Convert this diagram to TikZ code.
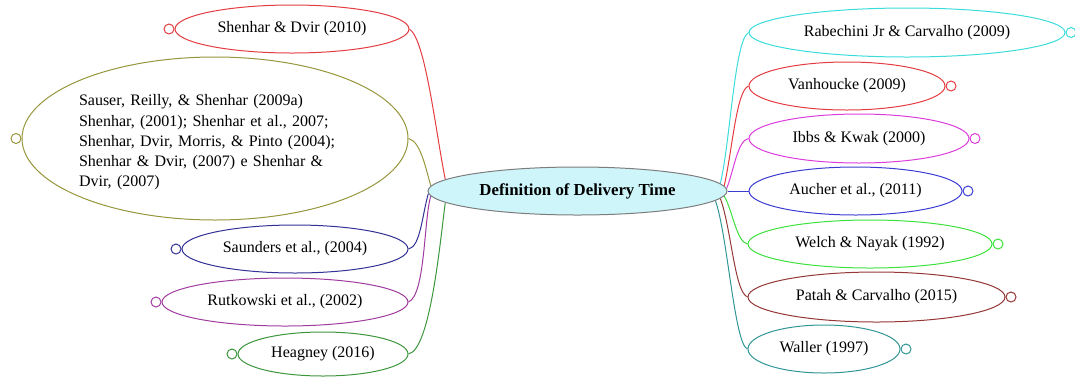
\documentclass[tikz,border=0pt]{standalone}
\usepackage{fontspec}
\setmainfont{Liberation Serif}
\usetikzlibrary{shapes.geometric,backgrounds}

% branch colours
\definecolor{cRed}{RGB}{228,60,64}
\definecolor{cOlive}{RGB}{150,150,60}
\definecolor{cNavy}{RGB}{50,50,150}
\definecolor{cPurple}{RGB}{160,60,160}
\definecolor{cDkGreen}{RGB}{60,150,60}
\definecolor{cCyan}{RGB}{60,220,220}
\definecolor{cMagenta}{RGB}{220,60,220}
\definecolor{cBlue}{RGB}{60,60,210}
\definecolor{cLtGreen}{RGB}{60,225,60}
\definecolor{cBrown}{RGB}{150,55,55}
\definecolor{cTeal}{RGB}{50,150,150}
\definecolor{rootFill}{RGB}{205,245,250}
\definecolor{rootLine}{RGB}{125,125,125}

% label set slightly left of the bubble centre
\newcommand\lbl[1]{#1\hspace{14pt}}

\begin{document}
\begin{tikzpicture}[x=1pt,y=-1pt,
  bub/.style={ellipse, draw=#1, line width=1pt, fill=white, inner sep=-3pt,
              font=\fontsize{16}{19}\selectfont, text=black},
  knob/.style={circle, draw=#1, line width=1pt, fill=white, inner sep=0pt, minimum size=10pt},
  link/.style={draw=#1, line width=1pt},
  topic/.style={ellipse, draw=rootLine, line width=1pt, fill=rootFill, inner sep=0pt,
              font=\fontsize{16.8}{20}\selectfont\bfseries, text=black}]

\useasboundingbox (0,0) rectangle (1075,376);

% central topic
\node[topic, minimum width=299pt, minimum height=48pt] (root) at (577.5,191) {Definition of Delivery Time};

% left branches
\node[bub=cRed, minimum width=234pt, minimum height=48pt] (s10) at (292,29) {\lbl{Shenhar \& Dvir (2010)}};
\node[bub=cOlive, minimum width=386pt, minimum height=163pt, text width=272pt, align=left,
      font=\fontsize{16}{20.3}\selectfont] (sau) at (215,138.5)
  {\rule{0pt}{19pt}Sauser, Reilly, \& Shenhar (2009a)\\
   Shenhar, (2001); Shenhar et al., 2007;\\
   Shenhar, Dvir, Morris, \& Pinto (2004);\\
   Shenhar \& Dvir, (2007) e Shenhar \&\\
   Dvir, (2007)};
\node[bub=cNavy, minimum width=226pt, minimum height=48pt] (sd) at (295,249) {\lbl{Saunders et al., (2004)}};
\node[bub=cPurple, minimum width=246pt, minimum height=48pt] (rk) at (285,302) {\lbl{Rutkowski et al., (2002)}};
\node[bub=cDkGreen, minimum width=170pt, minimum height=44pt] (hg) at (323,354) {\lbl{Heagney (2016)}};

% right branches
\node[bub=cCyan, minimum width=316pt, minimum height=49pt] (rab) at (907,32.5) {\lbl{Rabechini Jr \& Carvalho (2009)}};
\node[bub=cRed, minimum width=196pt, minimum height=48pt] (van) at (847,86) {\lbl{Vanhoucke (2009)}};
\node[bub=cMagenta, minimum width=220pt, minimum height=49pt] (ibbs) at (859,138.5) {\lbl{Ibbs \& Kwak (2000)}};
\node[bub=cBlue, minimum width=213pt, minimum height=48pt] (auc) at (855.5,191) {\lbl{Aucher et al., (2011)}};
\node[bub=cLtGreen, minimum width=244pt, minimum height=48pt] (wel) at (870,244) {\lbl{Welch \& Nayak (1992)}};
\node[bub=cBrown, minimum width=257pt, minimum height=50pt] (pat) at (876.5,297) {\lbl{Patah \& Carvalho (2015)}};
\node[bub=cTeal, minimum width=152pt, minimum height=48pt] (wal) at (824,349) {\lbl{Waller (1997)}};

% fold knobs at the outer tips
\node[knob=cRed, anchor=east] (k1) at (s10.west) {};
\node[knob=cOlive, anchor=east] (k2) at (sau.west) {};
\node[knob=cNavy, anchor=east] (k3) at (sd.west) {};
\node[knob=cPurple, anchor=east] (k4) at (rk.west) {};
\node[knob=cDkGreen, anchor=east] (k5) at (hg.west) {};
\node[knob=cCyan, anchor=west] (k6) at (rab.east) {};
\node[knob=cRed, anchor=west] (k7) at (van.east) {};
\node[knob=cMagenta, anchor=west] (k8) at (ibbs.east) {};
\node[knob=cBlue, anchor=west] (k9) at (auc.east) {};
\node[knob=cLtGreen, anchor=west] (k10) at (wel.east) {};
\node[knob=cBrown, anchor=west] (k11) at (pat.east) {};
\node[knob=cTeal, anchor=west] (k12) at (wal.east) {};

% connectors from the central topic
\begin{scope}[on background layer]
  \draw[link=cRed]     (root.175.2) .. controls +(-10,-50) and +(16,11) .. (s10.east);
  \draw[link=cOlive]   (root.178.4) .. controls +(-5,-17) and +(12,2.5) .. (sau.east);
  \draw[link=cNavy]    (root.181.5) .. controls +(-6,20) and +(12,-2) .. (sd.east);
  \draw[link=cPurple]  (root.182.7) .. controls +(-7,22) and +(17,-7) .. (rk.east);
  \draw[link=cDkGreen] (root.185.1) .. controls +(-5,37) and +(22,-4) .. (hg.east);

  \draw[link=cCyan]    (root.3.7) .. controls +(10,-42) and +(-14,7.5) .. (rab.west);
  \draw[link=cRed]     (root.2.4) .. controls +(8,-35) and +(-12,4) .. (van.west);
  \draw[link=cMagenta] (root.1.5) .. controls +(7,-17) and +(-11,1.5) .. (ibbs.west);
  \draw[link=cBlue]    (root.0) -- (auc.west);
  \draw[link=cLtGreen] (root.-2.4) .. controls +(8,13) and +(-11,-2) .. (wel.west);
  \draw[link=cBrown]   (root.-3.6) .. controls +(11,30) and +(-13,-5) .. (pat.west);
  \draw[link=cTeal]    (root.-4.75) .. controls +(12,33) and +(-13,-4) .. (wal.west);
\end{scope}
\end{tikzpicture}
\end{document}
